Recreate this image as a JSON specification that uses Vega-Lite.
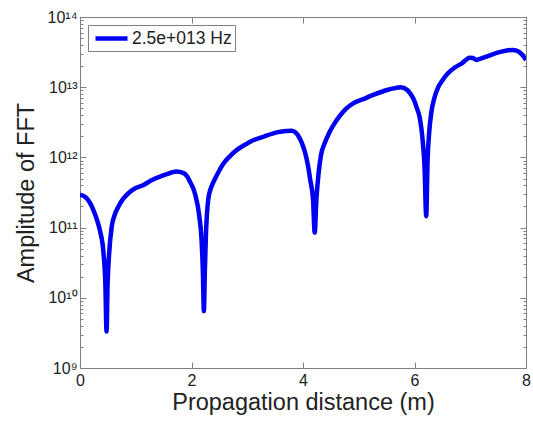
{
  "$schema": "https://vega.github.io/schema/vega-lite/v6.json",
  "width": 446,
  "height": 351,
  "autosize": {"type": "none"},
  "padding": {"left": 80, "top": 17, "right": 7, "bottom": 55},
  "background": "white",
  "config": {
    "font": "Liberation Sans",
    "view": {"stroke": "#808080", "strokeWidth": 1},
    "axis": {
      "domainColor": "#808080",
      "tickColor": "#808080",
      "labelColor": "#222222",
      "titleColor": "#222222",
      "labelFont": "Liberation Sans",
      "titleFont": "Liberation Sans",
      "titleFontWeight": "normal",
      "grid": false,
      "labelOverlap": false,
      "labelFlush": false,
      "labelBound": false
    },
    "legend": {"labelFont": "Liberation Sans"}
  },
  "data": {
    "values": [
      {"d": 0, "amp": 2.95e11, "s": "2.5e+013 Hz"},
      {"d": 0.07, "amp": 2.8e11, "s": "2.5e+013 Hz"},
      {"d": 0.14, "amp": 2.51e11, "s": "2.5e+013 Hz"},
      {"d": 0.2, "amp": 2.1e11, "s": "2.5e+013 Hz"},
      {"d": 0.26, "amp": 1.62e11, "s": "2.5e+013 Hz"},
      {"d": 0.31, "amp": 1.25e11, "s": "2.5e+013 Hz"},
      {"d": 0.36, "amp": 8.9e10, "s": "2.5e+013 Hz"},
      {"d": 0.42, "amp": 4.47e10, "s": "2.5e+013 Hz"},
      {"d": 0.455, "amp": 1.58e10, "s": "2.5e+013 Hz"},
      {"d": 0.476, "amp": 3.3e9, "s": "2.5e+013 Hz"},
      {"d": 0.495, "amp": 1.58e10, "s": "2.5e+013 Hz"},
      {"d": 0.52, "amp": 3.98e10, "s": "2.5e+013 Hz"},
      {"d": 0.57, "amp": 1.05e11, "s": "2.5e+013 Hz"},
      {"d": 0.62, "amp": 1.5e11, "s": "2.5e+013 Hz"},
      {"d": 0.69, "amp": 2.0e11, "s": "2.5e+013 Hz"},
      {"d": 0.78, "amp": 2.6e11, "s": "2.5e+013 Hz"},
      {"d": 0.87, "amp": 3.09e11, "s": "2.5e+013 Hz"},
      {"d": 0.99, "amp": 3.63e11, "s": "2.5e+013 Hz"},
      {"d": 1.12, "amp": 3.98e11, "s": "2.5e+013 Hz"},
      {"d": 1.3, "amp": 4.79e11, "s": "2.5e+013 Hz"},
      {"d": 1.48, "amp": 5.5e11, "s": "2.5e+013 Hz"},
      {"d": 1.62, "amp": 6.0e11, "s": "2.5e+013 Hz"},
      {"d": 1.73, "amp": 6.31e11, "s": "2.5e+013 Hz"},
      {"d": 1.85, "amp": 6.03e11, "s": "2.5e+013 Hz"},
      {"d": 1.92, "amp": 5.4e11, "s": "2.5e+013 Hz"},
      {"d": 1.97, "amp": 4.57e11, "s": "2.5e+013 Hz"},
      {"d": 2.06, "amp": 3.09e11, "s": "2.5e+013 Hz"},
      {"d": 2.14, "amp": 1.45e11, "s": "2.5e+013 Hz"},
      {"d": 2.18, "amp": 6.76e10, "s": "2.5e+013 Hz"},
      {"d": 2.205, "amp": 2.24e10, "s": "2.5e+013 Hz"},
      {"d": 2.222, "amp": 6.46e9, "s": "2.5e+013 Hz"},
      {"d": 2.24, "amp": 2.51e10, "s": "2.5e+013 Hz"},
      {"d": 2.26, "amp": 8.3e10, "s": "2.5e+013 Hz"},
      {"d": 2.3, "amp": 2.51e11, "s": "2.5e+013 Hz"},
      {"d": 2.34, "amp": 3.5e11, "s": "2.5e+013 Hz"},
      {"d": 2.4, "amp": 4.57e11, "s": "2.5e+013 Hz"},
      {"d": 2.48, "amp": 6.1e11, "s": "2.5e+013 Hz"},
      {"d": 2.58, "amp": 8.3e11, "s": "2.5e+013 Hz"},
      {"d": 2.7, "amp": 1.06e12, "s": "2.5e+013 Hz"},
      {"d": 2.82, "amp": 1.29e12, "s": "2.5e+013 Hz"},
      {"d": 2.95, "amp": 1.5e12, "s": "2.5e+013 Hz"},
      {"d": 3.07, "amp": 1.7e12, "s": "2.5e+013 Hz"},
      {"d": 3.31, "amp": 2.0e12, "s": "2.5e+013 Hz"},
      {"d": 3.55, "amp": 2.29e12, "s": "2.5e+013 Hz"},
      {"d": 3.7, "amp": 2.38e12, "s": "2.5e+013 Hz"},
      {"d": 3.8, "amp": 2.4e12, "s": "2.5e+013 Hz"},
      {"d": 3.87, "amp": 2.25e12, "s": "2.5e+013 Hz"},
      {"d": 3.92, "amp": 2.0e12, "s": "2.5e+013 Hz"},
      {"d": 3.98, "amp": 1.6e12, "s": "2.5e+013 Hz"},
      {"d": 4.04, "amp": 1.15e12, "s": "2.5e+013 Hz"},
      {"d": 4.09, "amp": 7.6e11, "s": "2.5e+013 Hz"},
      {"d": 4.13, "amp": 4.79e11, "s": "2.5e+013 Hz"},
      {"d": 4.18, "amp": 2.51e11, "s": "2.5e+013 Hz"},
      {"d": 4.21, "amp": 8.5e10, "s": "2.5e+013 Hz"},
      {"d": 4.24, "amp": 2.51e11, "s": "2.5e+013 Hz"},
      {"d": 4.28, "amp": 6.0e11, "s": "2.5e+013 Hz"},
      {"d": 4.32, "amp": 1.05e12, "s": "2.5e+013 Hz"},
      {"d": 4.39, "amp": 1.6e12, "s": "2.5e+013 Hz"},
      {"d": 4.47, "amp": 2.24e12, "s": "2.5e+013 Hz"},
      {"d": 4.56, "amp": 3.0e12, "s": "2.5e+013 Hz"},
      {"d": 4.65, "amp": 3.8e12, "s": "2.5e+013 Hz"},
      {"d": 4.77, "amp": 4.9e12, "s": "2.5e+013 Hz"},
      {"d": 4.9, "amp": 5.9e12, "s": "2.5e+013 Hz"},
      {"d": 5.08, "amp": 6.76e12, "s": "2.5e+013 Hz"},
      {"d": 5.26, "amp": 7.76e12, "s": "2.5e+013 Hz"},
      {"d": 5.51, "amp": 9.12e12, "s": "2.5e+013 Hz"},
      {"d": 5.65, "amp": 9.7e12, "s": "2.5e+013 Hz"},
      {"d": 5.75, "amp": 1.0e13, "s": "2.5e+013 Hz"},
      {"d": 5.87, "amp": 9.12e12, "s": "2.5e+013 Hz"},
      {"d": 5.93, "amp": 8.0e12, "s": "2.5e+013 Hz"},
      {"d": 5.99, "amp": 6.6e12, "s": "2.5e+013 Hz"},
      {"d": 6.04, "amp": 5.1e12, "s": "2.5e+013 Hz"},
      {"d": 6.09, "amp": 3.8e12, "s": "2.5e+013 Hz"},
      {"d": 6.15, "amp": 1.62e12, "s": "2.5e+013 Hz"},
      {"d": 6.18, "amp": 7.4e11, "s": "2.5e+013 Hz"},
      {"d": 6.21, "amp": 1.45e11, "s": "2.5e+013 Hz"},
      {"d": 6.235, "amp": 9.3e11, "s": "2.5e+013 Hz"},
      {"d": 6.26, "amp": 2.1e12, "s": "2.5e+013 Hz"},
      {"d": 6.3, "amp": 4.27e12, "s": "2.5e+013 Hz"},
      {"d": 6.36, "amp": 7.2e12, "s": "2.5e+013 Hz"},
      {"d": 6.42, "amp": 9.8e12, "s": "2.5e+013 Hz"},
      {"d": 6.5, "amp": 1.25e13, "s": "2.5e+013 Hz"},
      {"d": 6.6, "amp": 1.58e13, "s": "2.5e+013 Hz"},
      {"d": 6.72, "amp": 1.9e13, "s": "2.5e+013 Hz"},
      {"d": 6.85, "amp": 2.19e13, "s": "2.5e+013 Hz"},
      {"d": 6.99, "amp": 2.63e13, "s": "2.5e+013 Hz"},
      {"d": 7.05, "amp": 2.6e13, "s": "2.5e+013 Hz"},
      {"d": 7.11, "amp": 2.45e13, "s": "2.5e+013 Hz"},
      {"d": 7.2, "amp": 2.57e13, "s": "2.5e+013 Hz"},
      {"d": 7.34, "amp": 2.82e13, "s": "2.5e+013 Hz"},
      {"d": 7.46, "amp": 3.05e13, "s": "2.5e+013 Hz"},
      {"d": 7.58, "amp": 3.24e13, "s": "2.5e+013 Hz"},
      {"d": 7.68, "amp": 3.35e13, "s": "2.5e+013 Hz"},
      {"d": 7.76, "amp": 3.39e13, "s": "2.5e+013 Hz"},
      {"d": 7.83, "amp": 3.32e13, "s": "2.5e+013 Hz"},
      {"d": 7.88, "amp": 3.16e13, "s": "2.5e+013 Hz"},
      {"d": 7.94, "amp": 2.85e13, "s": "2.5e+013 Hz"},
      {"d": 8.0, "amp": 2.45e13, "s": "2.5e+013 Hz"}
    ]
  },
  "layer": [
    {
      "mark": {"type": "line", "strokeWidth": 4.5, "strokeJoin": "bevel", "interpolate": "monotone", "clip": true},
      "encoding": {
        "x": {
          "field": "d",
          "type": "quantitative",
          "scale": {"domain": [0, 8], "nice": false, "zero": false},
          "axis": {
            "values": [0, 2, 4, 6, 8],
            "format": "d",
            "tickSize": -6,
            "labelPadding": 10,
            "labelFontSize": 16,
            "title": "Propagation distance (m)",
            "titleFontSize": 23.5,
            "titlePadding": 2
          }
        },
        "y": {
          "field": "amp",
          "type": "quantitative",
          "scale": {"type": "log", "domain": [1e9, 1e14], "nice": false},
          "axis": {
            "values": [1e9, 2e9, 3e9, 4e9, 5e9, 6e9, 7e9, 8e9, 9e9, 1e10, 2e10, 3e10, 4e10, 5e10, 6e10, 7e10, 8e10, 9e10, 1e11, 2e11, 3e11, 4e11, 5e11, 6e11, 7e11, 8e11, 9e11, 1e12, 2e12, 3e12, 4e12, 5e12, 6e12, 7e12, 8e12, 9e12, 1e13, 2e13, 3e13, 4e13, 5e13, 6e13, 7e13, 8e13, 9e13, 1e14],
            "labelExpr": "datum.value == 1e9 ? '10⁹' : datum.value == 1e10 ? '10¹⁰' : datum.value == 1e11 ? '10¹¹' : datum.value == 1e12 ? '10¹²' : datum.value == 1e13 ? '10¹³' : datum.value == 1e14 ? '10¹⁴' : ''",
            "tickSize": {"condition": {"test": "datum.value / pow(10, floor(log(datum.value) / LN10 + 0.000001)) < 1.5", "value": -6}, "value": -3},
            "labelPadding": 9,
            "labelFontSize": 16,
            "title": "Amplitude of FFT",
            "titleFontSize": 23.5,
            "titlePadding": 9
          }
        },
        "color": {
          "field": "s",
          "type": "nominal",
          "scale": {"range": ["#0000f0"]},
          "legend": {
            "title": null,
            "orient": "top-left",
            "offset": 8,
            "symbolType": "M-2,0L2,0",
            "symbolSize": 256,
            "symbolStrokeWidth": 4.5,
            "symbolOffset": 10,
            "labelFontSize": 17.5,
            "labelColor": "#222222",
            "labelOffset": 10,
            "labelLimit": 300,
            "padding": 3,
            "strokeColor": "#808080",
            "fillColor": "white"
          }
        }
      }
    },
    {
      "mark": {"type": "line", "opacity": 0},
      "encoding": {
        "x": {
          "field": "d",
          "type": "quantitative",
          "axis": {"orient": "top", "values": [0, 2, 4, 6, 8], "labels": false, "title": null, "tickSize": -6, "domain": false}
        },
        "y": {
          "field": "amp",
          "type": "quantitative",
          "axis": {
            "orient": "right",
            "values": [1e9, 2e9, 3e9, 4e9, 5e9, 6e9, 7e9, 8e9, 9e9, 1e10, 2e10, 3e10, 4e10, 5e10, 6e10, 7e10, 8e10, 9e10, 1e11, 2e11, 3e11, 4e11, 5e11, 6e11, 7e11, 8e11, 9e11, 1e12, 2e12, 3e12, 4e12, 5e12, 6e12, 7e12, 8e12, 9e12, 1e13, 2e13, 3e13, 4e13, 5e13, 6e13, 7e13, 8e13, 9e13, 1e14],
            "labels": false,
            "title": null,
            "domain": false,
            "tickSize": {"condition": {"test": "datum.value / pow(10, floor(log(datum.value) / LN10 + 0.000001)) < 1.5", "value": -6}, "value": -3}
          }
        }
      }
    }
  ],
  "resolve": {"axis": {"x": "independent", "y": "independent"}}
}
